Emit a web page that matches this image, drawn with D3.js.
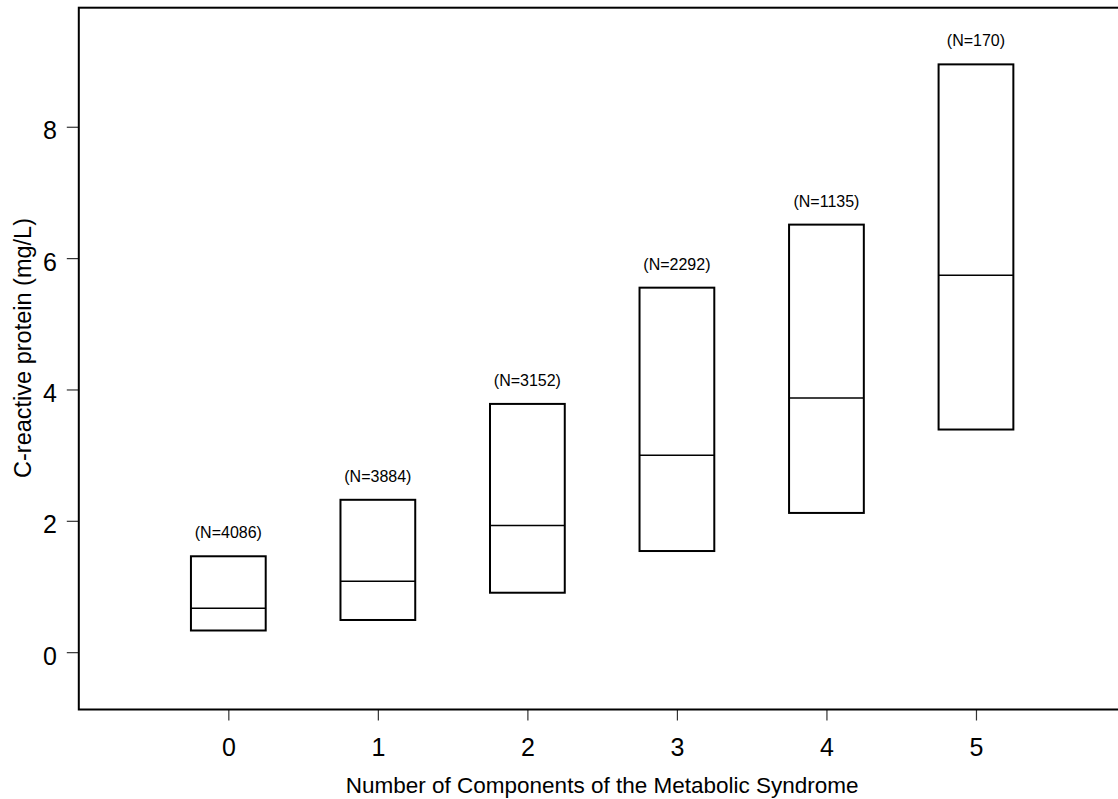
<!DOCTYPE html>
<html>
<head>
<meta charset="utf-8">
<script src="https://cdn.jsdelivr.net/npm/d3@7"></script>
<style>
  body { margin: 0; background: #fff; }
  text { font-family: "Liberation Sans", Arial, Helvetica, sans-serif; fill: #000; }
</style>
</head>
<body>
<div id="chart"></div>
<script>
// values
var categories = [0, 1, 2, 3, 4, 5];
var lower  = [0.33, 0.49, 0.905, 1.54, 2.12, 3.39];
var median = [0.67, 1.08, 1.93, 3.00, 3.87, 5.74];
var upper  = [1.46, 2.32, 3.78, 5.55, 6.51, 8.95];
var counts = [4086, 3884, 3152, 2292, 1135, 170];
var yTicks = [0, 2, 4, 6, 8];

var width = 1118, height = 799;

// set the ranges (plot box runs a little past the right edge of the picture)
var x = d3.scaleLinear().domain([-1, 6]).range([78.8, 1125.5]);
var y = d3.scaleLinear().domain([-0.873, 9.813]).range([709.5, 7.7]);

var svg = d3.select("#chart").append("svg")
    .attr("width", width)
    .attr("height", height);

var data = categories.map(function(c, i) {
  return { cat: c, lo: lower[i], med: median[i], hi: upper[i], n: counts[i] };
});

// axes
var xAxis = svg.append("g")
    .attr("transform", "translate(0," + y.range()[0] + ")")
    .call(d3.axisBottom(x).tickValues(categories).tickSize(11).tickPadding(18)
      .tickFormat(d3.format("d")));

var yAxis = svg.append("g")
    .attr("transform", "translate(" + x.range()[0] + ",0)")
    .call(d3.axisLeft(y).tickValues(yTicks).tickSize(12).tickPadding(10)
      .tickFormat(d3.format("d")));

[xAxis, yAxis].forEach(function(g) {
  g.select(".domain").remove();
  g.selectAll(".tick line").attr("stroke", "#333").attr("stroke-width", 1.2);
  g.selectAll(".tick text").attr("font-size", 25).attr("font-family", null);
});
yAxis.selectAll(".tick text").attr("dy", "0.48em");

// plot frame
svg.append("rect")
    .attr("x", x.range()[0])
    .attr("y", y.range()[1])
    .attr("width", x.range()[1] - x.range()[0])
    .attr("height", y.range()[0] - y.range()[1])
    .attr("fill", "none")
    .attr("stroke", "#000")
    .attr("stroke-width", 2);

// boxes
var half = 0.25;
var box = svg.selectAll(".box").data(data).enter().append("g").attr("class", "box");

box.append("rect")
    .attr("x", function(d) { return x(d.cat - half); })
    .attr("width", function(d) { return x(d.cat + half) - x(d.cat - half); })
    .attr("y", function(d) { return y(d.hi); })
    .attr("height", function(d) { return y(d.lo) - y(d.hi); })
    .attr("fill", "none")
    .attr("stroke", "#000")
    .attr("stroke-width", 2);

box.append("line")
    .attr("x1", function(d) { return x(d.cat - half); })
    .attr("x2", function(d) { return x(d.cat + half); })
    .attr("y1", function(d) { return y(d.med); })
    .attr("y2", function(d) { return y(d.med); })
    .attr("stroke", "#000")
    .attr("stroke-width", 1.5);

box.append("text")
    .attr("x", function(d) { return x(d.cat); })
    .attr("y", function(d) { return y(d.hi) - 18; })
    .attr("text-anchor", "middle")
    .attr("font-size", 16)
    .text(function(d) { return "(N=" + d.n + ")"; });

// axis titles
svg.append("text")
    .attr("x", x(2.5))
    .attr("y", 792.5)
    .attr("text-anchor", "middle")
    .attr("font-size", 22.5)
    .text("Number of Components of the Metabolic Syndrome");

svg.append("text")
    .attr("transform", "translate(31,348) rotate(-90)")
    .attr("text-anchor", "middle")
    .attr("font-size", 23.5)
    .text("C-reactive protein (mg/L)");
</script>
</body>
</html>
